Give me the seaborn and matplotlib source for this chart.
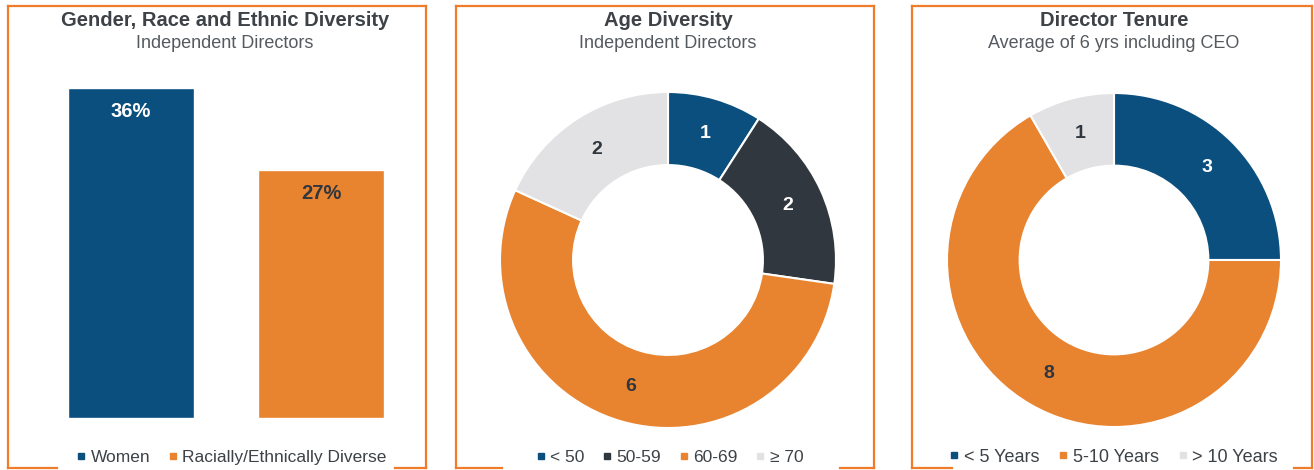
import matplotlib
matplotlib.use("Agg")
import matplotlib.pyplot as plt
from matplotlib.lines import Line2D
import seaborn as sns

W, H = 1314, 470

# data
diversity_labels = ["Women", "Racially/Ethnically Diverse"]
diversity_pct = [36, 27]

age_labels = ["< 50", "50-59", "60-69", "≥ 70"]
age_counts = [1, 2, 6, 2]

tenure_labels = ["< 5 Years", "5-10 Years", "> 10 Years"]
tenure_counts = [3, 8, 1]

NAVY = "#0b4f7f"
ORANGE = "#e8832f"
CHARCOAL = "#30373e"
LIGHT = "#e2e2e4"
FRAME = "#f07c2a"
TEXT = "#3d4247"
SUB = "#555a5f"

sns.set_theme(style="white")
plt.rcParams["font.family"] = ["Liberation Sans", "DejaVu Sans"]

fig = plt.figure(figsize=(W / 100, H / 100), dpi=100)


def px_axes(x0, y0, x1, y1):
    # box given in pixels from the top-left corner
    return fig.add_axes([x0 / W, 1 - y1 / H, (x1 - x0) / W, (y1 - y0) / H])


def frame(x0, x1, y0, y1, g0, g1):
    segs = [([x0, x1], [y0, y0]), ([x0, x0], [y0, y1]), ([x1, x1], [y0, y1]),
            ([x0, g0], [y1, y1]), ([g1, x1], [y1, y1])]
    for xs, ys in segs:
        fig.add_artist(Line2D([x / W for x in xs], [1 - y / H for y in ys],
                              color=FRAME, lw=1.6, solid_capstyle="projecting"))


def titles(cx, title, sub):
    fig.text(cx / W, 1 - 21 / H, title, ha="center", va="center",
             fontsize=14.5, weight="bold", color=TEXT)
    fig.text(cx / W, 1 - 44 / H, sub, ha="center", va="center",
             fontsize=13, color=SUB)


def legend(cx, labels, colors, size=12.5):
    handles = [Line2D([], [], marker="s", linestyle="none", color=c, markersize=5)
               for c in colors]
    fig.legend(handles, labels, loc="center", bbox_to_anchor=(cx / W, 1 - 457 / H),
               ncol=len(labels), frameon=False, fontsize=size, handlelength=0.45,
               handletextpad=0.3, columnspacing=1.1, labelcolor=TEXT)


def donut(box, counts, colors, label_colors):
    ax = px_axes(*box)
    total = sum(counts)
    _, _, texts = ax.pie(counts, colors=colors, startangle=90, counterclock=False,
                         wedgeprops=dict(width=0.435, edgecolor="white", linewidth=1.5),
                         autopct=lambda p: f"{p * total / 100:.0f}", pctdistance=0.785)
    for t, c in zip(texts, label_colors):
        t.set_color(c)
        t.set_fontsize(14)
        t.set_fontweight("bold")
    ax.set_xlim(-1, 1)
    ax.set_ylim(-1, 1)
    ax.set_aspect("equal")
    ax.axis("off")


# panel 1: bars
frame(8, 426, 6, 468, 57, 395)
titles(225, "Gender, Race and Ethnic Diversity", "Independent Directors")
ax1 = px_axes(36, 88, 416, 418)
sns.barplot(x=diversity_labels, y=diversity_pct, hue=diversity_labels,
            palette=[NAVY, ORANGE], saturation=1, width=0.663, legend=False, ax=ax1)
ax1.set_xlim(-0.5, 1.5)
ax1.set_ylim(0, max(diversity_pct))
for i, (v, c) in enumerate(zip(diversity_pct, ["white", CHARCOAL])):
    ax1.annotate(f"{v}%", (i, v), xytext=(0, -23.5), textcoords="offset pixels",
                 ha="center", va="center", fontsize=14.5, weight="bold", color=c)
ax1.axis("off")
legend(232, diversity_labels, [NAVY, ORANGE], 12.5)

# panel 2: age donut
frame(456, 874, 6, 468, 502, 840)
titles(668, "Age Diversity", "Independent Directors")
donut((500, 92, 836, 428), age_counts, [NAVY, CHARCOAL, ORANGE, LIGHT],
      ["white", "white", CHARCOAL, CHARCOAL])
legend(670, age_labels, [NAVY, CHARCOAL, ORANGE, LIGHT], 12.5)

# panel 3: tenure donut
frame(912, 1312, 6, 468, 952, 1294)
titles(1114, "Director Tenure", "Average of 6 yrs including CEO")
donut((947, 92, 1281, 428), tenure_counts, [NAVY, ORANGE, LIGHT],
      ["white", CHARCOAL, CHARCOAL])
legend(1114, tenure_labels, [NAVY, ORANGE, LIGHT], 13)

fig.savefig("out.png", dpi=100)
